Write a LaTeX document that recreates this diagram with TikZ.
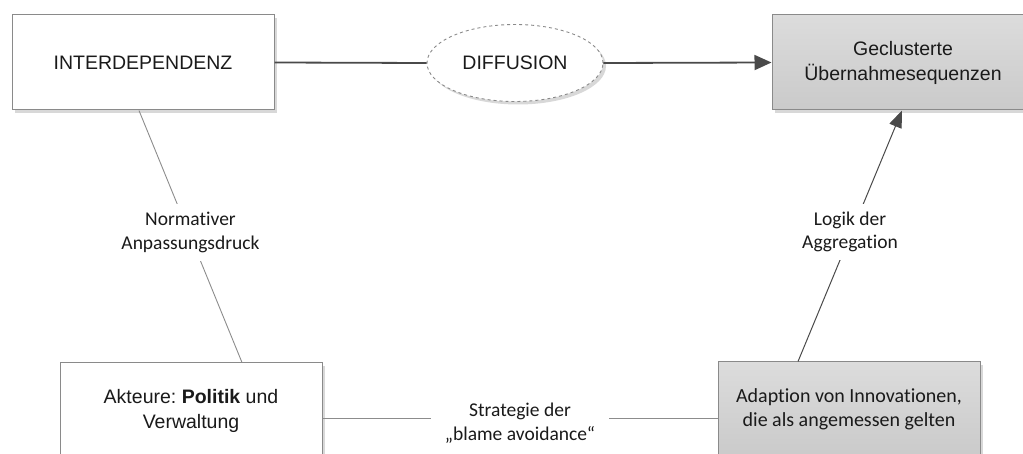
\documentclass[tikz,border=0pt]{standalone}
\usepackage{fontspec}
\setmainfont{Liberation Sans}
\newfontfamily\calfont[Ligatures=NoCommon]{Carlito}
\usetikzlibrary{arrows.meta,shapes.geometric,shadows,calc}
\definecolor{bordergray}{HTML}{8A8A8A}
\definecolor{txt}{HTML}{1A1A1A}
\definecolor{darkline}{HTML}{4A4A4A}
\definecolor{thinline}{HTML}{8C8C8C}
\definecolor{fillA}{HTML}{DCDCDC}
\definecolor{fillB}{HTML}{CACACA}
\frenchspacing
\begin{document}
\begin{tikzpicture}[x=1pt,y=-1pt,
  boxshadow/.style={drop shadow={shadow xshift=3pt,shadow yshift=-3pt,fill=black!30,opacity=0.5}},
  box/.style={draw=bordergray, line width=1pt, minimum width=262pt, minimum height=95pt,
    inner sep=0pt, align=center, text=txt, font=\fontsize{19.5}{25}\selectfont, fill=white, boxshadow},
  graybox/.style={box, top color=fillA, bottom color=fillB},
  diffell/.style={ellipse, draw=bordergray, dashed, line width=0.9pt, minimum width=176pt,
    minimum height=77pt, inner sep=0pt, fill=white, text=txt, font=\fontsize{19.5}{25}\selectfont, boxshadow},
  lbl/.style={fill=white, align=center, text=txt, inner xsep=6pt, inner ysep=8pt,
    font=\calfont\fontsize{19.5}{23.5}\selectfont},
  thick line/.style={draw=darkline, line width=1.8pt},
  thin line/.style={draw=thinline, line width=0.9pt},
  arrowline/.style={draw=darkline, line width=1pt}
]
\useasboundingbox (0,0) rectangle (1023,454);
\clip (0,0) rectangle (1023,454);

\node[box] (A) at (143,62.5) {INTERDEPENDENZ};
\node[diffell] (D) at (515,63) {DIFFUSION};
\node[graybox] (G) at (903,62.5) {Geclusterte\\Übernahmesequenzen};
\node[box] (K) at (191,410.5) {Akteure: \textbf{Politik} und\\Verwaltung};
\node[graybox, font=\calfont\fontsize{20}{23.5}\selectfont] (P) at (849,409.5) {Adaption von Innovationen,\\die als angemessen gelten};

\coordinate (a1) at ($(A.south)+(-4,0)$);
\coordinate (k1) at ($(K.north)+(51,0)$);
\coordinate (p1) at ($(P.north)+(-51,0)$);
\coordinate (g1) at ($(G.south)+(-1,0)$);
\coordinate (k2) at ($(K.east)+(0,7.5)$);
\coordinate (p2) at ($(P.west)+(0,8.5)$);

\draw[thick line] (A.east) -- (D.west);
\draw[thick line, -{Triangle[length=17pt,width=15pt]}] (D.east) -- (G.west);

\draw[thin line] (a1) -- node[lbl, midway, yshift=4pt] (L1) {Normativer\\Anpassungsdruck} (k1);
\draw[arrowline, -{Triangle[length=17pt,width=13pt]}] (p1) -- node[lbl, midway, yshift=4pt] (L2) {Logik der\\Aggregation} (g1);
\draw[thin line] (k2) -- node[lbl, midway, yshift=-5pt, inner xsep=14pt] (L3) {Strategie der\\„blame avoidance“} (p2);
\end{tikzpicture}
\end{document}
